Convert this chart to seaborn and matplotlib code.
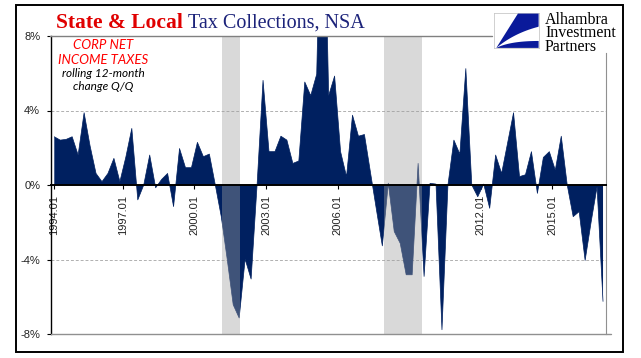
import numpy as np
import pandas as pd
import matplotlib.pyplot as plt
import seaborn as sns
from matplotlib.lines import Line2D
from matplotlib.patches import Rectangle, Polygon

# quarterly values, first one is 1994.01 (rolling 12-month change, %)
chg = [2.59, 2.41, 2.45, 2.59, 1.61, 3.88, 2.1, 0.62, 0.18, 0.62,
       1.43, 0.18, 1.5, 3.04, -0.80, 0.0, 1.61, -0.15, 0.3, 0.62,
       -1.16, 1.96, 0.93, 0.93, 2.29, 1.52, 1.66, 0.0, -1.7, -4.0,
       -6.43, -7.14, -3.98, -5.05, 0.0, 5.62, 1.79, 1.79, 2.62, 2.41,
       1.16, 1.29, 5.53, 4.80, 5.95, 20.0, 4.8, 5.85, 1.79, 0.45,
       3.75, 2.62, 2.71, 0.7, -1.3, -3.27, 0.1, -2.5, -3.13, -4.82,
       -4.82, 1.16, -4.91, 0.09, 0.05, -7.77, 0.0, 2.41, 1.66, 6.25,
       0.0, -0.63, 0.05, -1.25, 1.61, 0.62, 2.25, 3.88, 0.45, 0.55,
       1.79, -0.45, 1.48, 1.79, 0.8, 2.62, 0.0, -1.7, -1.43, -4.05,
       -2.0, -0.1, -6.25]

tick_labels = ["1994.01", "1997.01", "2000.01", "2003.01",
               "2006.01", "2009.01", "2012.01", "2015.01"]
# recessions, in quarters counted from 1994.01
rec_start = [28.1, 55.3]
rec_end = [31.1, 61.6]

NAVY = "#002060"
RED = "#e00000"

df = pd.DataFrame({"q": np.arange(len(chg)), "chg": chg})

sns.set_style("white")
plt.rcParams["font.family"] = ["Liberation Sans", "DejaVu Sans"]

W, H = 641, 358
fig = plt.figure(figsize=(W / 100, H / 100), dpi=100)
ax = fig.add_axes([51.3 / W, 1 - 334 / H, (606 - 51.3) / W, (334 - 36) / H])

ax.fill_between(df["q"], 0, df["chg"], color=NAVY, lw=0, zorder=2)
sns.lineplot(data=df, x="q", y="chg", color=NAVY, lw=0.5, ax=ax, zorder=2)
for a, b in zip(rec_start, rec_end):
    ax.axvspan(a, b, color="#a0a0a0", alpha=0.4, lw=0, zorder=3)

for g in (4, -4):
    ax.axhline(g, color="#b0b0b0", lw=0.7, ls=(0, (3, 2)), zorder=1)

ax.set_xlim(-0.5, 92.5)
ax.set_ylim(-8, 8)
ax.set_xlabel("")
ax.set_ylabel("")

ax.spines["top"].set_visible(False)
ax.spines["right"].set_color("#909090")
ax.spines["right"].set_bounds(-8, 7.1)
ax.spines["bottom"].set_position(("data", 0))
ax.spines["bottom"].set_color("black")
ax.spines["bottom"].set_linewidth(1.4)
ax.spines["bottom"].set_zorder(5)
ax.spines["left"].set_color("black")
ax.spines["left"].set_linewidth(1.0)

ax.set_yticks([8, 4, 0, -4, -8])
ax.set_yticklabels(["8%", "4%", "0%", "-4%", "-8%"], fontsize=8, color="#222222")
ticks = [0] + [12 * k - 0.5 for k in range(1, len(tick_labels))]
ax.set_xticks(ticks)
ax.set_xticklabels(tick_labels, rotation=90, fontsize=8, color="#222222")
ax.tick_params(axis="both", direction="out", length=3, width=0.8, color="black",
               left=True, bottom=True, pad=2)
ax.tick_params(axis="y", pad=5)
ax.tick_params(axis="x", pad=4)

# title, two colours
t1 = fig.text(56 / W, 1 - 27.5 / H, "State & Local", color=RED, fontsize=15.5,
              fontweight="bold", family="Liberation Serif", va="baseline")
fig.canvas.draw()
bb = t1.get_window_extent()
fig.text(bb.x1 / W + 5 / W, 1 - 27.5 / H, "Tax Collections, NSA", color="#1c237a",
         fontsize=14.5, family="Liberation Serif", va="baseline")

fig.add_artist(Line2D([50 / W, 492 / W], [1 - 36 / H] * 2, color="#808080", lw=1))
fig.add_artist(Line2D([51 / W, 611 / W], [1 - 334 / H] * 2, color="#909090", lw=1))
fig.add_artist(Rectangle((16 / W, 1 - 352 / H), (623 - 16) / W, (352 - 5) / H,
                         fill=False, ec="black", lw=1.4, transform=fig.transFigure))

# note
fig.text(103 / W, 1 - 45 / H, "CORP NET", color="red", fontsize=9.5, style="italic",
         family="Lato", ha="center", va="center")
fig.text(103 / W, 1 - 60.5 / H, "INCOME TAXES", color="red", fontsize=9.5, style="italic",
         family="Lato", ha="center", va="center")
fig.text(103 / W, 1 - 73.5 / H, "rolling 12-month", color="black", fontsize=8.5,
         style="italic", family="Lato", ha="center", va="center")
fig.text(103 / W, 1 - 87 / H, "change Q/Q", color="black", fontsize=8.5,
         style="italic", family="Lato", ha="center", va="center")

# logo
lax = fig.add_axes([494 / W, 1 - 49 / H, 46 / W, 36.5 / H])
lax.set_xlim(0, 1)
lax.set_ylim(0, 1)
lax.axis("off")
lax.add_patch(Rectangle((0, 0), 1, 1, fill=False, ec="#c8c8c8", lw=1.2))
tt = np.linspace(0, 1, 30)
cx = (1 - tt) ** 2 * 1.0 + 2 * (1 - tt) * tt * 0.45 + tt ** 2 * 0.05
cy = (1 - tt) ** 2 * 0.62 + 2 * (1 - tt) * tt * 0.45 + tt ** 2 * 0.03
upper = [(0.52, 0.97), (0.97, 0.97)] + list(zip(np.minimum(cx, 0.97), cy))
lax.add_patch(Polygon(upper, closed=True, color="#0a1a9a", lw=0))
lx = (1 - tt) ** 2 * 0.97 + 2 * (1 - tt) * tt * 0.35 + tt ** 2 * 0.05
ly = (1 - tt) ** 2 * 0.22 + 2 * (1 - tt) * tt * 0.22 + tt ** 2 * 0.03
lower = [(0.05, 0.03), (0.97, 0.03)] + list(zip(lx, ly))
lax.add_patch(Polygon(lower, closed=True, color="#0a1a9a", lw=0))

fig.text(545 / W, 1 - 12 / H, "Alhambra\nInvestment\nPartners", fontsize=11.5,
         family="Liberation Serif", color="black", va="top", linespacing=0.78)

fig.savefig("out.png", dpi=100)
